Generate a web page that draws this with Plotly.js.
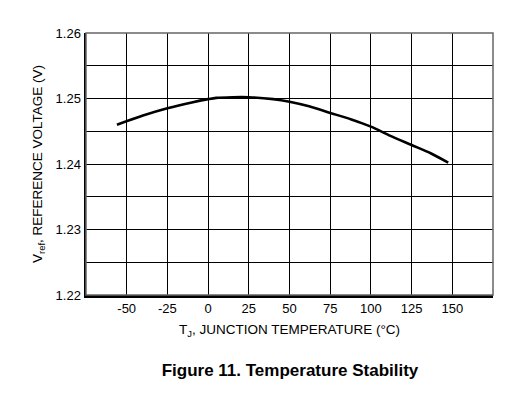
<!DOCTYPE html>
<html><head><meta charset="utf-8">
<script src="https://cdn.plot.ly/plotly-3.0.1.min.js"></script>
<style>body{margin:0;background:#fff}#c{width:516px;height:396px}</style>
</head><body><div id="c"></div>
<script>
var temperature = [-56, -40, -25, -10, 0, 5, 15, 25, 40, 50, 62, 75, 88, 100, 112, 125, 137, 147.5];
var vref = [1.2460, 1.2474, 1.2485, 1.2494, 1.2499, 1.2501, 1.2502, 1.2502, 1.2499, 1.2495, 1.2488, 1.2478, 1.2468, 1.2457, 1.2443, 1.2429, 1.2416, 1.2402];
var xTicks = [-50, -25, 0, 25, 50, 75, 100, 125, 150];
var yTicks = [1.22, 1.23, 1.24, 1.25, 1.26];

var font = {family: 'Liberation Sans, Arial, sans-serif', color: '#000'};
var trace = {x: temperature, y: vref, mode: 'lines', type: 'scatter',
  line: {color: '#000', width: 2.6, shape: 'spline', smoothing: 0.8}, hoverinfo: 'skip'};

var layout = {
  width: 516, height: 396,
  margin: {l: 86, r: 23, t: 33, b: 101},
  paper_bgcolor: '#fff', plot_bgcolor: '#fff',
  showlegend: false,
  font: font,
  title: {text: '<b>Figure 11. Temperature Stability</b>', font: {family: font.family, size: 17, color: '#000'},
    x: 0.562, xanchor: 'center', y: 1 - 370/396, yanchor: 'middle', xref: 'container', yref: 'container'},
  xaxis: {range: [-75, 175], tickvals: xTicks, ticktext: xTicks.map(String),
    showgrid: true, gridcolor: '#000', gridwidth: 1, zeroline: false,
    showline: true, linecolor: '#000', linewidth: 2.5, ticks: '',
    tickfont: {family: font.family, size: 13, color: '#000'},
    title: {text: 'T<sub>J</sub>, JUNCTION TEMPERATURE (°C)', font: {family: font.family, size: 13.5, color: '#000'}, standoff: 10}},
  yaxis: {range: [1.22, 1.26], tickvals: yTicks, tickformat: '.2f',
    showgrid: true, gridcolor: '#000', gridwidth: 1, zeroline: false,
    minor: {dtick: 0.005, tick0: 1.22, showgrid: true, gridcolor: '#000', gridwidth: 1},
    showline: true, linecolor: '#000', linewidth: 2.5, ticks: '',
    tickfont: {family: font.family, size: 13, color: '#000'},
    title: {text: 'V<sub>ref</sub>, REFERENCE VOLTAGE (V)', font: {family: font.family, size: 13.5, color: '#000'}, standoff: 10}},
  shapes: [{type: 'rect', xref: 'paper', yref: 'paper', x0: 0, x1: 1, y0: 0, y1: 1,
    line: {color: '#666', width: 1.5}}]
};
Plotly.newPlot('c', [trace], layout, {staticPlot: true, displayModeBar: false});
</script></body></html>
